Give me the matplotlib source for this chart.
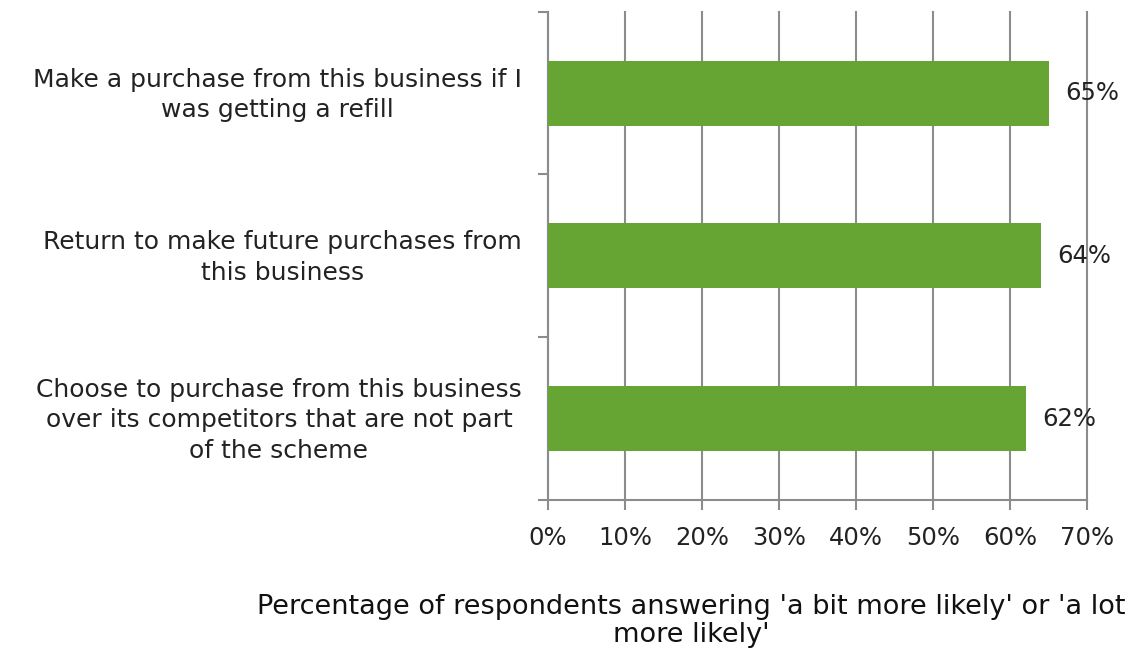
import numpy as np
import matplotlib.pyplot as plt
from matplotlib.transforms import ScaledTranslation

# survey statements (top to bottom) and share answering more likely, %
statements = [
    "Make a purchase from this business if I\nwas getting a refill",
    "Return to make future purchases from\nthis business",
    "Choose to purchase from this business\nover its competitors that are not part\nof the scheme",
]
shares = [65, 64, 62]
xticks = [0, 10, 20, 30, 40, 50, 60, 70]

GREEN = '#66a434'
GREY = '#8c8c8c'


def draw_plot():
    fig = plt.figure(figsize=(11.42, 6.51), dpi=100)
    ax = fig.add_axes([0.480, 0.232, 0.472, 0.750])

    pos = np.arange(len(statements))[::-1]
    ax.barh(pos, shares, height=0.4, color=GREEN, zorder=3)
    for p, v in zip(pos, shares):
        ax.annotate(f"{v}%", (v, p), xytext=(12, 0), textcoords='offset points',
                    va='center', ha='left', fontsize=17.5, color='#222222')

    ax.set_xlim(0, 70)
    ax.set_ylim(-0.5, len(statements) - 0.5)
    ax.set_xticks(xticks)
    ax.set_xticklabels([f"{t}%" for t in xticks], fontsize=17.5, color='#222222')
    ax.xaxis.grid(True, color=GREY, lw=1.5, zorder=0)
    for gl in ax.get_xgridlines():
        gl.set_clip_on(False)

    # category labels centred on bars, ticks at band edges
    ax.set_yticks(pos)
    ax.set_yticklabels(statements, fontsize=18, color='#222222',
                       multialignment='center', linespacing=1.35)
    ax.tick_params(axis='y', length=0, pad=19)
    shift = ScaledTranslation(0, 0.04, fig.dpi_scale_trans)
    for lab in ax.get_yticklabels():
        lab.set_transform(lab.get_transform() + shift)
    ax.set_yticks(np.arange(len(statements) + 1) - 0.5, minor=True)
    ax.tick_params(axis='y', which='minor', length=7, width=1.5, color=GREY, direction='out')
    ax.tick_params(axis='x', length=7, width=1.5, color=GREY, direction='out', pad=12)

    for s in ['top', 'right']:
        ax.spines[s].set_visible(False)
    for s in ['left', 'bottom']:
        ax.spines[s].set_color(GREY)
        ax.spines[s].set_linewidth(1.5)

    fig.text(0.605, 0.088, "Percentage of respondents answering 'a bit more likely' or 'a lot\nmore likely'",
             ha='center', va='top', fontsize=19.5, color='#111111',
             multialignment='center', linespacing=1.1)

    fig.savefig('out.png', dpi=100)


if __name__ == '__main__':
    draw_plot()
